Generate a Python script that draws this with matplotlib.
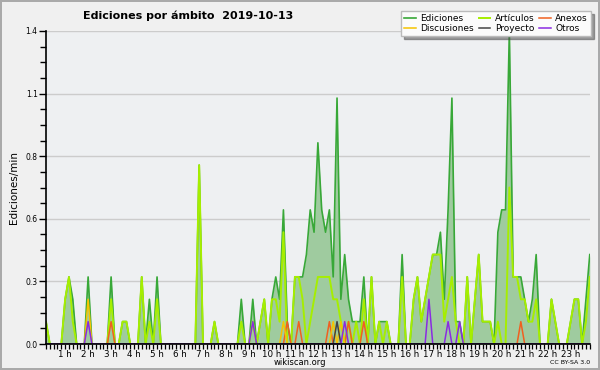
import matplotlib
matplotlib.use("Agg")
import matplotlib.pyplot as plt
import numpy as np
from matplotlib.ticker import FixedLocator, MultipleLocator

# edits per minute, one row per hour, one value per 10 minutes
ediciones = [
    [0.1, 0.1, 0, 0, 0, 0],
    [0.2, 0.3, 0.2, 0, 0, 0],
    [0.3, 0, 0, 0, 0, 0],
    [0.3, 0, 0, 0.1, 0.1, 0],
    [0, 0, 0.3, 0, 0.2, 0],
    [0.3, 0, 0, 0, 0, 0],
    [0, 0, 0, 0, 0, 0.8],
    [0, 0, 0, 0.1, 0, 0],
    [0, 0, 0, 0, 0.2, 0],
    [0, 0.2, 0, 0.1, 0.2, 0],
    [0.2, 0.3, 0.2, 0.6, 0.1, 0],
    [0.3, 0.3, 0.3, 0.4, 0.6, 0.5],
    [0.9, 0.6, 0.5, 0.6, 0.3, 1.1],
    [0.2, 0.4, 0.2, 0.1, 0.1, 0.1],
    [0.3, 0, 0.3, 0, 0.1, 0.1],
    [0.1, 0, 0, 0, 0.4, 0],
    [0, 0.2, 0.3, 0.1, 0.2, 0.3],
    [0.4, 0.4, 0.5, 0.2, 0.6, 1.1],
    [0.1, 0.1, 0, 0.3, 0, 0.2],
    [0.4, 0.1, 0.1, 0.1, 0, 0.5],
    [0.6, 0.6, 1.4, 0.3, 0.3, 0.3],
    [0.2, 0.1, 0.2, 0.4, 0, 0],
    [0, 0.2, 0.1, 0, 0, 0],
    [0.1, 0.2, 0.2, 0, 0.2, 0.4],
]

articulos = [
    [0.1, 0.1, 0, 0, 0, 0],
    [0.2, 0.3, 0.1, 0, 0, 0],
    [0, 0, 0, 0, 0, 0],
    [0.2, 0, 0, 0.1, 0.1, 0],
    [0, 0, 0.3, 0, 0.1, 0],
    [0.2, 0, 0, 0, 0, 0],
    [0, 0, 0, 0, 0, 0.8],
    [0, 0, 0, 0.1, 0, 0],
    [0, 0, 0, 0, 0.1, 0],
    [0, 0.1, 0, 0.1, 0.2, 0],
    [0.2, 0.2, 0.1, 0.5, 0, 0],
    [0.3, 0.3, 0.2, 0, 0.1, 0.2],
    [0.3, 0.3, 0.3, 0.3, 0.2, 0.2],
    [0.1, 0, 0.1, 0, 0.1, 0],
    [0.2, 0, 0.3, 0, 0.1, 0],
    [0.1, 0, 0, 0, 0.3, 0],
    [0, 0.2, 0.3, 0.1, 0.2, 0.3],
    [0.4, 0.4, 0.4, 0.1, 0.2, 0.3],
    [0.1, 0, 0, 0.3, 0, 0.2],
    [0.4, 0.1, 0.1, 0.1, 0, 0.1],
    [0, 0, 0.7, 0.3, 0.3, 0.2],
    [0.2, 0.1, 0.1, 0.2, 0, 0],
    [0, 0.2, 0.1, 0, 0, 0],
    [0.1, 0.2, 0.2, 0, 0.1, 0.3],
]

# sparse series: time -> edits per minute
anexos = {"03:00": 0.1, "10:40": 0.1, "11:10": 0.1, "12:30": 0.1,
          "13:20": 0.1, "14:00": 0.1, "20:50": 0.1}
discusiones = {"02:00": 0.2, "10:30": 0.1, "12:40": 0.1, "13:00": 0.1}
proyecto = {"12:50": 0.1}
otros = {"02:00": 0.1, "09:10": 0.1, "13:10": 0.1, "16:50": 0.2,
         "17:40": 0.1, "18:10": 0.1}

hour_labels = [f"{h} h" for h in range(1, 24)]


def sparse(d):
    out = np.zeros(144)
    for t, v in d.items():
        hh, mm = t.split(":")
        out[int(hh) * 6 + int(mm) // 10] = v
    return out


t = np.arange(144) / 6.0
tot = np.array(ediciones, dtype=float).ravel()
art = np.array(articulos, dtype=float).ravel()

fig = plt.figure(figsize=(6, 3.7), dpi=100, facecolor="#f0f0f0")
fig.patch.set_edgecolor("#aaaaaa")
fig.patch.set_linewidth(1.5)

ax = fig.add_axes([46 / 600, 26 / 370, 544 / 600, 313 / 370])
ax.set_facecolor("#eef0f2")

ax.fill_between(t, tot, color="#9fcb9f", lw=0, zorder=2)
ax.plot(t, tot, color="#38a838", lw=1.2, zorder=3, label="Ediciones")
ax.plot(t, art, color="#a6ee00", lw=1.4, zorder=4, label="Artículos")
ax.plot(t, sparse(anexos), color="#f06020", lw=1.1, zorder=5, label="Anexos")
ax.plot(t, sparse(discusiones), color="#f5c400", lw=1.1, zorder=5, label="Discusiones")
ax.plot(t, sparse(proyecto), color="#444444", lw=1.1, zorder=5, label="Proyecto")
ax.plot(t, sparse(otros), color="#8a2be2", lw=1.1, zorder=5, label="Otros")

ax.set_xlim(1 / 6, 143 / 6 + 0.01)
ax.set_ylim(0, 1.4)

yt = np.linspace(0, 1.4, 6)
ax.yaxis.set_major_locator(FixedLocator(yt))
ax.set_yticklabels([f"{v:.1f}" for v in yt])
ax.yaxis.set_minor_locator(MultipleLocator(0.07))
ax.set_xticks(range(1, 24))
ax.set_xticklabels(hour_labels)
ax.xaxis.set_minor_locator(MultipleLocator(1 / 6))
ax.tick_params(axis="y", which="major", length=5, width=1, labelsize=5.5, pad=1)
ax.tick_params(axis="y", which="minor", length=4, width=1)
ax.tick_params(axis="x", which="both", length=3.5, width=0.9, labelsize=6.3, pad=0.5)

ax.grid(axis="y", color="#cccccc", lw=1, zorder=1)
ax.set_axisbelow(True)
for s in ["top", "right"]:
    ax.spines[s].set_visible(False)
for s in ["left", "bottom"]:
    ax.spines[s].set_linewidth(1.2)
    ax.spines[s].set_zorder(6)

ax.set_ylabel("Ediciones/min", fontsize=7.5, labelpad=5)

fig.text(0.313, 0.958, "Ediciones por ámbito  2019-10-13", ha="center",
         va="center", fontsize=8, fontweight="bold")
fig.text(0.5, 0.021, "wikiscan.org", ha="center", va="center", fontsize=6)
fig.text(0.983, 0.021, "CC BY-SA 3.0", ha="right", va="center", fontsize=4.5)

h, l = ax.get_legend_handles_labels()
order = [0, 3, 1, 4, 2, 5]
leg = fig.legend([h[i] for i in order], [l[i] for i in order], ncol=3,
                 loc="upper right", bbox_to_anchor=(0.985, 0.97),
                 fontsize=6.5, frameon=True, fancybox=False, shadow=True,
                 handlelength=1.3, handletextpad=0.5, columnspacing=0.5,
                 labelspacing=0.05, borderpad=0.35, borderaxespad=0)
leg.get_frame().set_edgecolor("#bbbbbb")
leg.get_frame().set_facecolor("#fbfbfb")
leg.set_zorder(10)

fig.savefig("out.png", dpi=100, facecolor=fig.get_facecolor(),
            edgecolor=fig.get_edgecolor())
